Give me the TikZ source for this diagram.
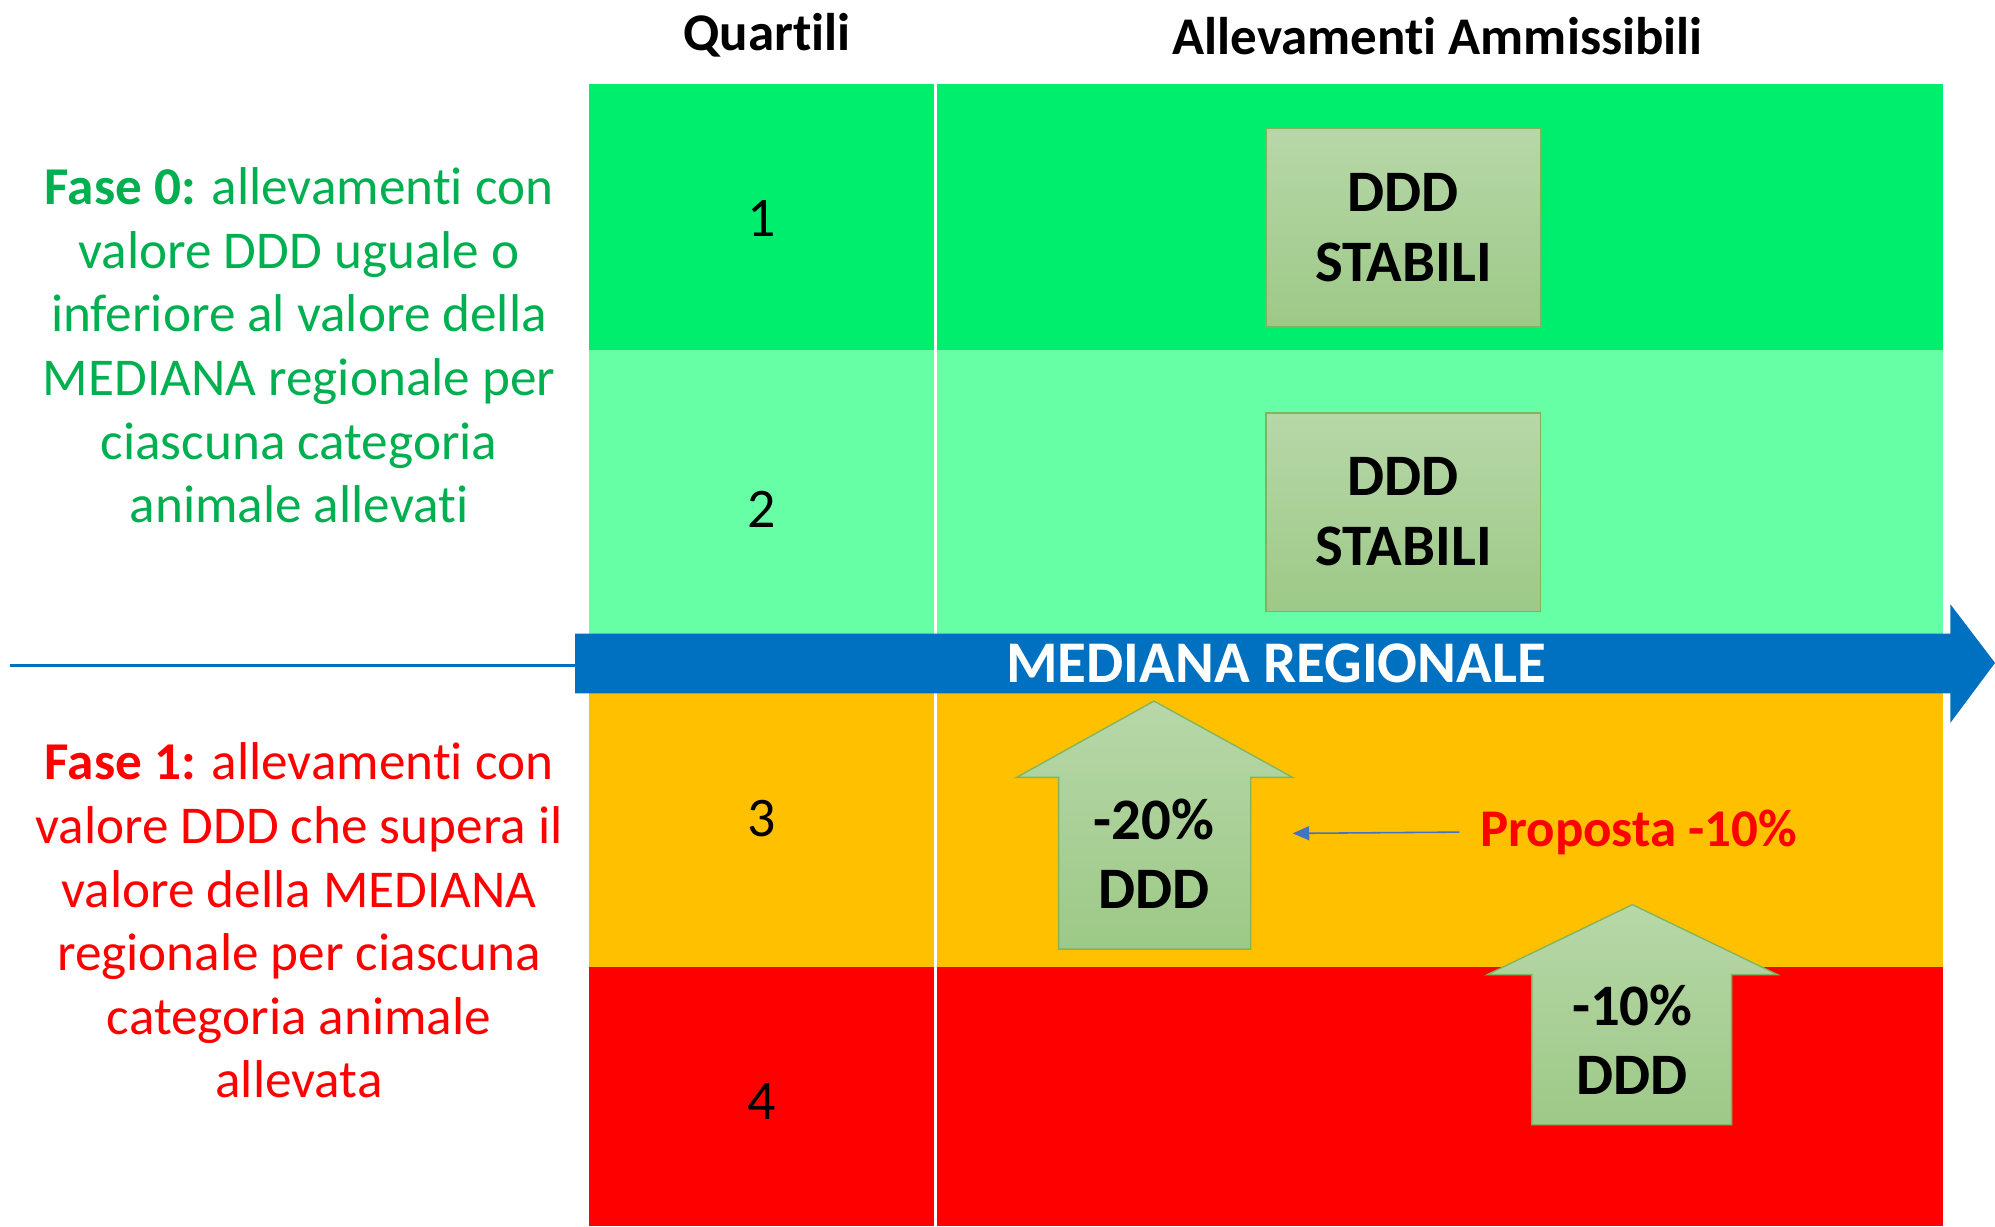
\documentclass[tikz,border=0pt]{standalone}
\usepackage{fontspec}
\setmainfont{Carlito}[Ligatures=NoCommon]
\usepackage{xcolor}
\usepackage{tikz}
\usetikzlibrary{arrows.meta,positioning}
\definecolor{qone}{RGB}{0,238,110}
\definecolor{qtwo}{RGB}{102,255,166}
\definecolor{qthree}{RGB}{255,192,0}
\definecolor{qfour}{RGB}{255,0,0}
\definecolor{mediana}{RGB}{0,112,192}
\definecolor{boxtop}{RGB}{183,215,168}
\definecolor{boxbot}{RGB}{157,201,135}
\definecolor{boxline}{RGB}{130,180,95}
\definecolor{fasezero}{RGB}{0,176,80}
\definecolor{propline}{RGB}{68,114,196}

\begin{document}
\begin{tikzpicture}[x=0.02cm,y=-0.02cm,>=Latex]
  \tikzstyle{band}=[anchor=north west,inner sep=0,outer sep=0,minimum width=21.28cm]
  \tikzstyle{stabbox}=[draw=boxline,line width=0.6pt,top color=boxtop,bottom color=boxbot,minimum width=4.32cm,minimum height=3.12cm,align=center,font=\fontsize{26.3}{31.3}\selectfont\bfseries,inner sep=0]
  \tikzstyle{uparrow}=[draw=boxline,line width=0.6pt,top color=boxtop,bottom color=boxbot]
  \tikzstyle{arrowtext}=[align=center,font=\fontsize{26.3}{30.7}\selectfont\bfseries,inner sep=0]
  \tikzstyle{qnum}=[font=\fontsize{25}{30}\selectfont]
  \tikzstyle{head}=[font=\fontsize{23.7}{28}\selectfont\bfseries]
  \tikzstyle{fase}=[align=center,font=\fontsize{23.8}{28.45}\selectfont,inner sep=0]
  \useasboundingbox (0,0) rectangle (1568,964);
  \node[band,fill=qone,minimum height=4.18cm] (r1) at (463,66) {};
  \node[band,fill=qtwo,minimum height=4.92cm] (r2) at (463,275) {};
  \node[band,fill=qthree,minimum height=4.78cm] (r3) at (463,521) {};
  \node[band,fill=qfour,minimum height=4.08cm] (r4) at (463,760) {};
  \draw[white,line width=1.2pt] (735,66) -- (735,964);
  \node[head] (hquart) at (603,28) {Quartili};
  \node[head] (hall) at (1130,28) {Allevamenti Ammissibili};
  \foreach \n/\y in {1/172,2/400,3/643,4/866}
    \node[qnum] (q\n) at (599,\y) {\n};
  \node[stabbox] (stab1) at (1103,179) {DDD\\STABILI};
  \node[stabbox] (stab2) at (1103,402.5) {DDD\\STABILI};
  \fill[mediana] (452,498) -- (1533,498) -- (1533,475) -- (1568,521) -- (1533,568) -- (1533,545) -- (452,545) -- cycle;
  \coordinate (medw) at (452,523);
  \coordinate (linestart) at (8,523);
  \draw[mediana,line width=1.1pt] (linestart) -- (medw);
  \node[white,font=\fontsize{26.4}{28}\selectfont\bfseries] (med) at (1003,521) {MEDIANA REGIONALE};
  \shade[uparrow] (907,551) -- (1016,611) -- (983,611) -- (983,746) -- (832,746) -- (832,611) -- (799,611) -- cycle;
  \node[arrowtext] (up20) at (907,671) {-20\%\\DDD};
  \shade[uparrow] (1283,711) -- (1397,766) -- (1361,766) -- (1361,884) -- (1204,884) -- (1204,766) -- (1169,766) -- cycle;
  \node[arrowtext] (up10) at (1283,817) {-10\%\\DDD};
  \node[qfour,font=\fontsize{23.7}{26}\selectfont\bfseries,anchor=west,inner sep=0] (prop) at (1163,654) {Proposta -10\%};
  \coordinate (up20e) at (1016,655);
  \draw[-{Triangle[length=0.26cm,width=0.22cm]},propline,line width=0.7pt] ([xshift=-0.32cm]prop.west) -- (up20e);
  \node[fase,fasezero] (fase0) at (235,271.5) {\textbf{Fase 0:} allevamenti con\\valore DDD uguale o\\inferiore al valore della\\MEDIANA regionale per\\ciascuna categoria\\animale allevati};
  \node[fase,qfour] (fase1) at (235,723.5) {\textbf{Fase 1:} allevamenti con\\valore DDD che supera il\\valore della MEDIANA\\regionale per ciascuna\\categoria animale\\allevata};
\end{tikzpicture}
\end{document}
